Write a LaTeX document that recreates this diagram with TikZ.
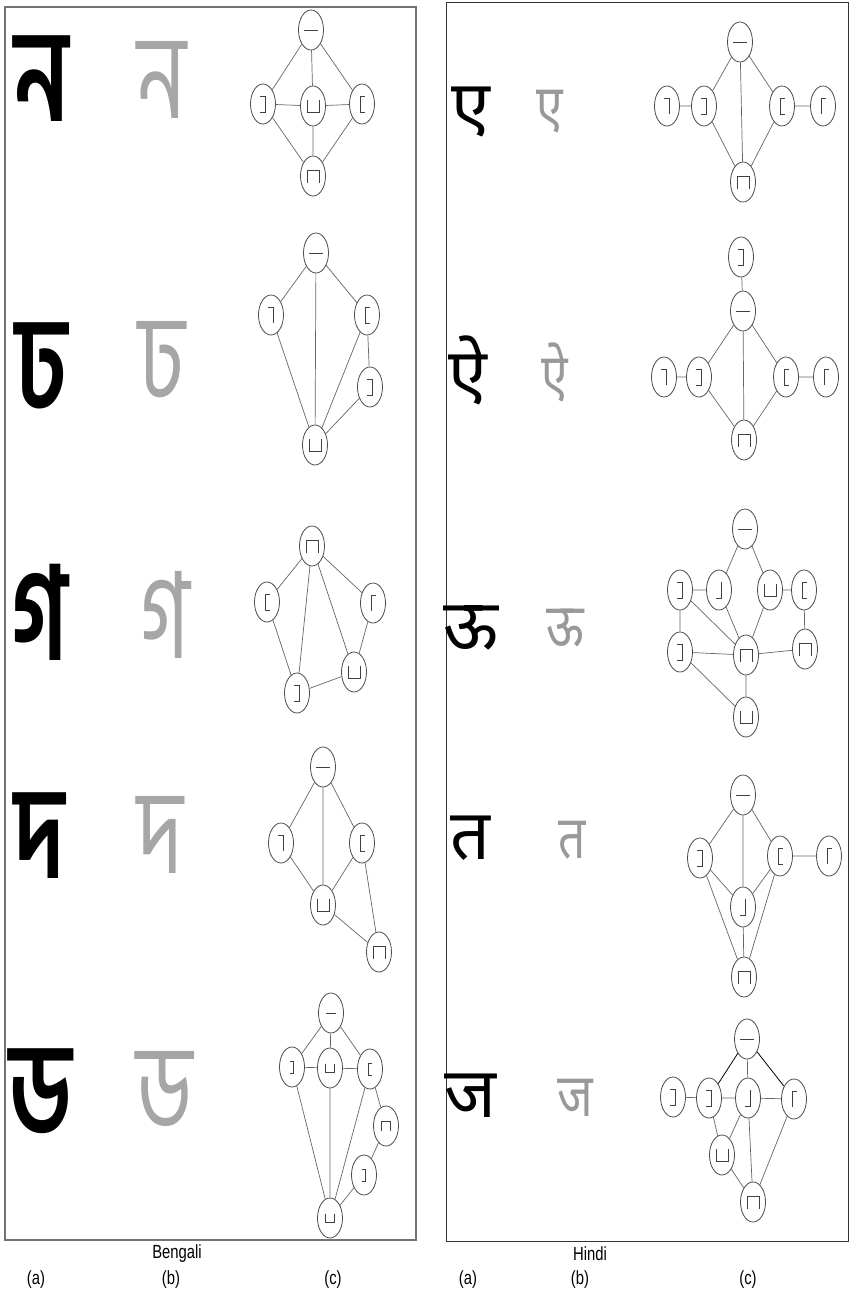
\documentclass[tikz,border=0pt]{standalone}
\usepackage{fontspec}
\setmainfont{Liberation Sans}
\newfontfamily\bn[Script=Bengali]{Hind Siliguri}
\newfontfamily\dv[Script=Devanagari]{Noto Sans}
\usetikzlibrary{shapes.geometric}
\def\gs{1}
\tikzset{
  v/.style={ellipse, draw=black!70, line width=0.8pt, fill=white, inner sep=0pt, minimum width=25pt, minimum height=40pt},
  e/.style={draw=black!60, line width=0.7pt},
  ed/.style={draw=black, line width=0.8pt},
  gl/.style={draw=black!75, line width=0.9pt},
  gH/.style={path picture={\draw[gl] (path picture bounding box.center) ++(-7*\gs,0) -- ++(14*\gs,0);}},
  gRB/.style={path picture={\draw[gl] (path picture bounding box.center) ++(-3*\gs,-8*\gs) -- ++(5*\gs,0) -- ++(0,16*\gs) -- ++(-5*\gs,0);}},
  gLB/.style={path picture={\draw[gl] (path picture bounding box.center) ++(3*\gs,-8*\gs) -- ++(-5*\gs,0) -- ++(0,16*\gs) -- ++(5*\gs,0);}},
  gU/.style={path picture={\draw[gl] (path picture bounding box.center) ++(-6*\gs,-6*\gs) -- ++(0,12*\gs) -- ++(12*\gs,0) -- ++(0,-12*\gs);}},
  gN/.style={path picture={\draw[gl] (path picture bounding box.center) ++(-6*\gs,7*\gs) -- ++(0,-13*\gs) -- ++(12*\gs,0) -- ++(0,13*\gs);}},
  gTL/.style={path picture={\draw[gl] (path picture bounding box.center) ++(-3*\gs,-8*\gs) -- ++(5*\gs,0) -- ++(0,16*\gs);}},
  gTR/.style={path picture={\draw[gl] (path picture bounding box.center) ++(-2*\gs,8*\gs) -- ++(0,-16*\gs) -- ++(5*\gs,0);}},
  gBL/.style={path picture={\draw[gl] (path picture bounding box.center) ++(2*\gs,-8*\gs) -- ++(0,16*\gs) -- ++(-5*\gs,0);}},
  bnA/.style={inner sep=0pt, font=\bn\bfseries\fontsize{130}{130}\selectfont, xscale=0.72},
  bnB/.style={inner sep=0pt, text=black!35, font=\bn\fontsize{120}{120}\selectfont, xscale=0.72},
  dvA/.style={inner sep=0pt, font=\dv\bfseries\fontsize{70}{70}\selectfont},
  dvB/.style={inner sep=0pt, text=black!40, font=\dv\fontsize{60}{60}\selectfont, xscale=0.8},
  lab/.style={inner sep=0pt, font=\fontsize{19}{19}\selectfont, xscale=0.78},
}
\begin{document}
\begin{tikzpicture}[x=1pt,y=-1pt]
\useasboundingbox (0,0) rectangle (852,1301);
\fill[white] (0,0) rectangle (852,1301);
% panels
\draw[black!55, line width=1.6pt] (5,7) rectangle (416,1240);
\draw[black!80, line width=1pt] (446,2) rectangle (848,1241);
% labels
\node[lab] (lbn) at (177,1254) {Bengali};
\node[lab] (lhi) at (590,1254) {Hindi};
\node[lab] (la1) at (36,1280) {(a)};
\node[lab] (lb1) at (171,1280) {(b)};
\node[lab] (lc1) at (333,1280) {(c)};
\node[lab] (la2) at (468,1280) {(a)};
\node[lab] (lb2) at (580,1280) {(b)};
\node[lab] (lc2) at (748,1280) {(c)};
% Bengali characters
\node[bnA] (ba1) at (42,79) {ন};
\node[bnA] (ba2) at (42,366) {ঢ};
\node[bnA] (ba3) at (40,612) {গ};
\node[bnA] (ba4) at (40,836) {দ};
\node[bnA] (ba5) at (41,1092) {ড};
\node[bnB] (bb1) at (162,80) {ন};
\node[bnB] (bb2) at (162,360) {ঢ};
\node[bnB] (bb3) at (165,615) {গ};
\node[bnB] (bb4) at (160,835) {দ};
\node[bnB] (bb5) at (165,1090) {ড};
% Hindi characters
\node[dvA] (ha1) at (471,112) {ए};
\node[dvA] (ha2) at (468,370) {ऐ};
\node[dvA] (ha3) at (471,628) {ऊ};
\node[dvA] (ha4) at (470,838) {त};
\node[dvA] (ha5) at (470,1096) {ज};
\node[dvB] (hb1) at (550,112) {ए};
\node[dvB] (hb2) at (555,372) {ऐ};
\node[dvB] (hb3) at (565,628) {ऊ};
\node[dvB] (hb4) at (572,840) {त};
\node[dvB] (hb5) at (575,1098) {ज};
% ---- Bengali graph 1
\begin{scope}[every node/.append style={minimum width=26pt, minimum height=37pt}]
\node[v,gH] (a1t) at (311,30) {};
\node[v,gRB] (a1l) at (263,104) {};
\node[v,gU] (a1c) at (313,106) {};
\node[v,gLB] (a1r) at (362,104) {};
\node[v,gN] (a1b) at (313,176) {};
\draw[e] (a1t) -- (a1l) (a1t) -- (a1c) (a1t) -- (a1r) (a1l) -- (a1c) (a1c) -- (a1r)
  (a1l) -- (a1b) (a1c) -- (a1b) (a1r) -- (a1b);
\end{scope}
% ---- Bengali graph 2
\begin{scope}[every node/.append style={minimum width=28pt, minimum height=42pt}]
\node[v,gH] (a2t) at (316,253) {};
\node[v,gTL] (a2l) at (271,315) {};
\node[v,gLB] (a2r) at (367,315) {};
\node[v,gRB] (a2s) at (370,387) {};
\node[v,gU] (a2b) at (315,445) {};
\draw[e] (a2t) -- (a2l) (a2t) -- (a2b) (a2t) -- (a2r) (a2l) -- (a2b) (a2r) -- (a2b)
  (a2r) -- (a2s) (a2s) -- (a2b);
\end{scope}
% ---- Bengali graph 3
\begin{scope}[every node/.append style={minimum width=24pt, minimum height=40pt}]
\node[v,gN] (a3t) at (312,546) {};
\node[v,gLB] (a3l) at (267,602) {};
\node[v,gTR] (a3r) at (373,603) {};
\node[v,gU] (a3p) at (354,672) {};
\node[v,gRB] (a3q) at (297,693) {};
\draw[e] (a3t) -- (a3l) (a3t) -- (a3q) (a3t) -- (a3p) (a3t) -- (a3r) (a3l) -- (a3q)
  (a3r) -- (a3p) (a3q) -- (a3p);
\end{scope}
% ---- Bengali graph 4
\begin{scope}[every node/.append style={minimum width=24pt, minimum height=43pt}]
\node[v,gH] (a4t) at (323,767) {};
\node[v,gTL] (a4l) at (281,843) {};
\node[v,gLB] (a4r) at (362,843) {};
\node[v,gU] (a4m) at (323,905) {};
\node[v,gN] (a4b) at (379,952) {};
\draw[e] (a4t) -- (a4l) (a4t) -- (a4m) (a4t) -- (a4r) (a4l) -- (a4m) (a4r) -- (a4m)
  (a4r) -- (a4b) (a4m) -- (a4b);
\end{scope}
% ---- Bengali graph 5
\begin{scope}[every node/.append style={minimum width=18pt, minimum height=32pt}]
\def\gs{0.75}
\node[v,gH] (a5t) at (331,1013) {};
\node[v,gRB] (a5l) at (292,1067) {};
\node[v,gU] (a5c) at (330,1068) {};
\node[v,gLB] (a5r) at (370,1069) {};
\node[v,gN] (a5s) at (386,1126) {};
\node[v,gRB] (a5u) at (364,1175) {};
\node[v,gU] (a5b) at (330,1218) {};
\draw[e] (a5t) -- (a5l) (a5t) -- (a5c) (a5t) -- (a5r) (a5l) -- (a5c) (a5c) -- (a5r)
  (a5l) -- (a5b) (a5c) -- (a5b) (a5r) -- (a5b) (a5r) -- (a5s) (a5s) -- (a5u) (a5u) -- (a5b);
\end{scope}
% ---- Hindi graph 1
\begin{scope}[every node/.append style={minimum width=25pt, minimum height=44pt}]
\node[v,gH] (h1t) at (740,42) {};
\node[v,gTL] (h1m) at (667,106) {};
\node[v,gRB] (h1l) at (704,106) {};
\node[v,gLB] (h1r) at (782,106) {};
\node[v,gTR] (h1s) at (823,106) {};
\node[v,gN] (h1b) at (743,182) {};
\draw[e] (h1m) -- (h1l) (h1t) -- (h1l) (h1t) -- (h1b) (h1t) -- (h1r) (h1r) -- (h1s)
  (h1l) -- (h1b) (h1r) -- (h1b);
\end{scope}
% ---- Hindi graph 2
\begin{scope}[every node/.append style={minimum width=23pt, minimum height=38pt}]
\node[v,gRB] (h2u) at (741,257) {};
\node[v,gH] (h2t) at (743,311) {};
\node[v,gTL] (h2m) at (664,377) {};
\node[v,gRB] (h2l) at (699,377) {};
\node[v,gLB] (h2r) at (786,377) {};
\node[v,gTR] (h2s) at (826,377) {};
\node[v,gN] (h2b) at (744,440) {};
\draw[e] (h2u) -- (h2t) (h2t) -- (h2l) (h2t) -- (h2b) (h2t) -- (h2r) (h2m) -- (h2l)
  (h2r) -- (h2s) (h2l) -- (h2b) (h2r) -- (h2b);
\end{scope}
% ---- Hindi graph 3
\begin{scope}[every node/.append style={minimum width=22pt, minimum height=38pt}]
\node[v,gH] (h3t) at (745,529) {};
\node[v,gRB] (h3a) at (680,590) {};
\node[v,gBL] (h3b) at (719,590) {};
\node[v,gU] (h3c) at (770,590) {};
\node[v,gLB] (h3d) at (804,590) {};
\node[v,gRB] (h3e) at (680,652) {};
\node[v,gN] (h3f) at (746,655) {};
\node[v,gN] (h3g) at (805,649) {};
\node[v,gU] (h3h) at (746,717) {};
\draw[e] (h3t) -- (h3b) (h3t) -- (h3c) (h3a) -- (h3b) (h3c) -- (h3d) (h3a) -- (h3e)
  (h3a) -- (h3f) (h3b) -- (h3f) (h3c) -- (h3f) (h3d) -- (h3g) (h3e) -- (h3f)
  (h3f) -- (h3g) (h3e) -- (h3h) (h3f) -- (h3h);
\end{scope}
% ---- Hindi graph 4
\begin{scope}[every node/.append style={minimum width=27pt, minimum height=42pt}]
\node[v,gH] (h4t) at (743,795) {};
\node[v,gRB] (h4l) at (700,858) {};
\node[v,gLB] (h4r) at (780,856) {};
\node[v,gTR] (h4s) at (829,856) {};
\node[v,gBL] (h4m) at (743,907) {};
\node[v,gN] (h4b) at (744,977) {};
\draw[e] (h4t) -- (h4l) (h4t) -- (h4m) (h4t) -- (h4r) (h4r) -- (h4s) (h4l) -- (h4m)
  (h4r) -- (h4m) (h4l) -- (h4b) (h4r) -- (h4b) (h4m) -- (h4b);
\end{scope}
% ---- Hindi graph 5
\begin{scope}[every node/.append style={minimum width=23pt, minimum height=38pt}]
\node[v,gH] (h5t) at (747,1039) {};
\node[v,gRB] (h5a) at (673,1097) {};
\node[v,gRB] (h5b) at (709,1098) {};
\node[v,gBL] (h5c) at (748,1098) {};
\node[v,gTR] (h5d) at (794,1099) {};
\node[v,gU] (h5e) at (722,1155) {};
\node[v,gN] (h5f) at (753,1202) {};
\draw[ed] (h5t) -- (h5b) (h5t) -- (h5d);
\draw[e] (h5t) -- (h5c) (h5a) -- (h5b) (h5b) -- (h5c) (h5c) -- (h5d) (h5b) -- (h5e)
  (h5c) -- (h5e) (h5c) -- (h5f) (h5e) -- (h5f) (h5d) -- (h5f);
\end{scope}
\end{tikzpicture}
\end{document}
